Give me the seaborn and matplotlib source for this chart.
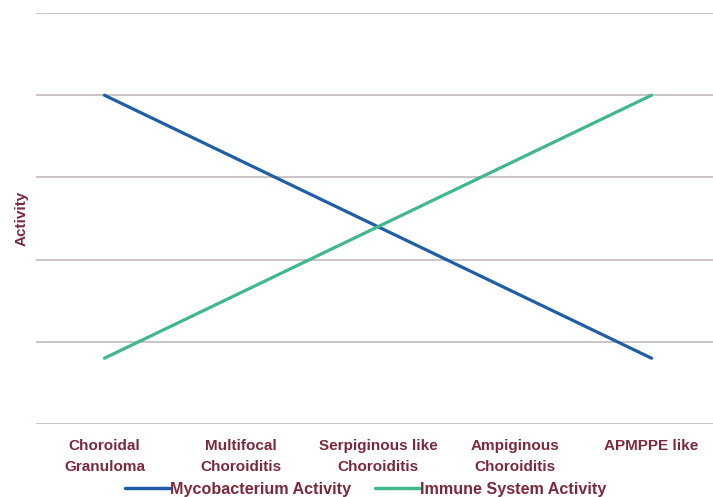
import matplotlib
matplotlib.use("Agg")
import matplotlib.pyplot as plt
import seaborn as sns
import pandas as pd

categories = ["Choroidal\nGranuloma", "Multifocal\nChoroiditis", "Serpiginous like\nChoroiditis",
              "Ampiginous\nChoroiditis", "APMPPE like"]
mycobacterium = [4.0, 3.2, 2.4, 1.6, 0.8]
immune = [0.8, 1.6, 2.4, 3.2, 4.0]
series_names = ["Mycobacterium Activity", "Immune System Activity"]

sns.set_theme(style="white")
plt.rcParams["font.family"] = ["Liberation Sans", "DejaVu Sans"]

text_color = "#7a2a3a"
grid_color = "#cbc3c5"
palette = {series_names[0]: "#1f5ea6", series_names[1]: "#3fb98a"}

df = pd.DataFrame({
    "pos": list(range(len(categories))) * 2,
    "value": mycobacterium + immune,
    "series": [series_names[0]] * len(categories) + [series_names[1]] * len(categories),
})

fig = plt.figure(figsize=(7.13, 4.97), dpi=100)
ax = fig.add_axes([36 / 713, 1 - 424 / 497, 1 - 36 / 713 + 0.004, (424 - 13) / 497])

sns.lineplot(data=df, x="pos", y="value", hue="series", palette=palette,
             linewidth=2.3, ax=ax, legend=False)

ax.set_xlim(-0.5, 4.47)
ax.set_ylim(0, 5)
ax.set_yticks([0, 1, 2, 3, 4, 5])
ax.yaxis.grid(True, color=grid_color, linewidth=1.4)
ax.set_yticklabels([])
ax.tick_params(axis="y", length=0)
for s in ax.spines.values():
    s.set_visible(False)

ax.set_xticks(range(len(categories)))
ax.set_xticklabels(categories, color=text_color, fontsize=11, fontweight="bold", linespacing=1.6)
ax.tick_params(axis="x", length=0, pad=11)
ax.set_xlabel("")
ax.set_ylabel("Activity", color=text_color, fontsize=11, fontweight="bold", labelpad=2)

handles = [plt.Line2D([], [], color=palette[n], linewidth=2.5) for n in series_names]
fig.legend(handles, series_names, loc="center", bbox_to_anchor=(0.513, 0.016), ncol=2,
           frameon=False, handlelength=2.8, handletextpad=0.0, columnspacing=1.5,
           prop={"weight": "bold", "size": 11.6},
           labelcolor=text_color)

fig.savefig("out.png", dpi=100)
